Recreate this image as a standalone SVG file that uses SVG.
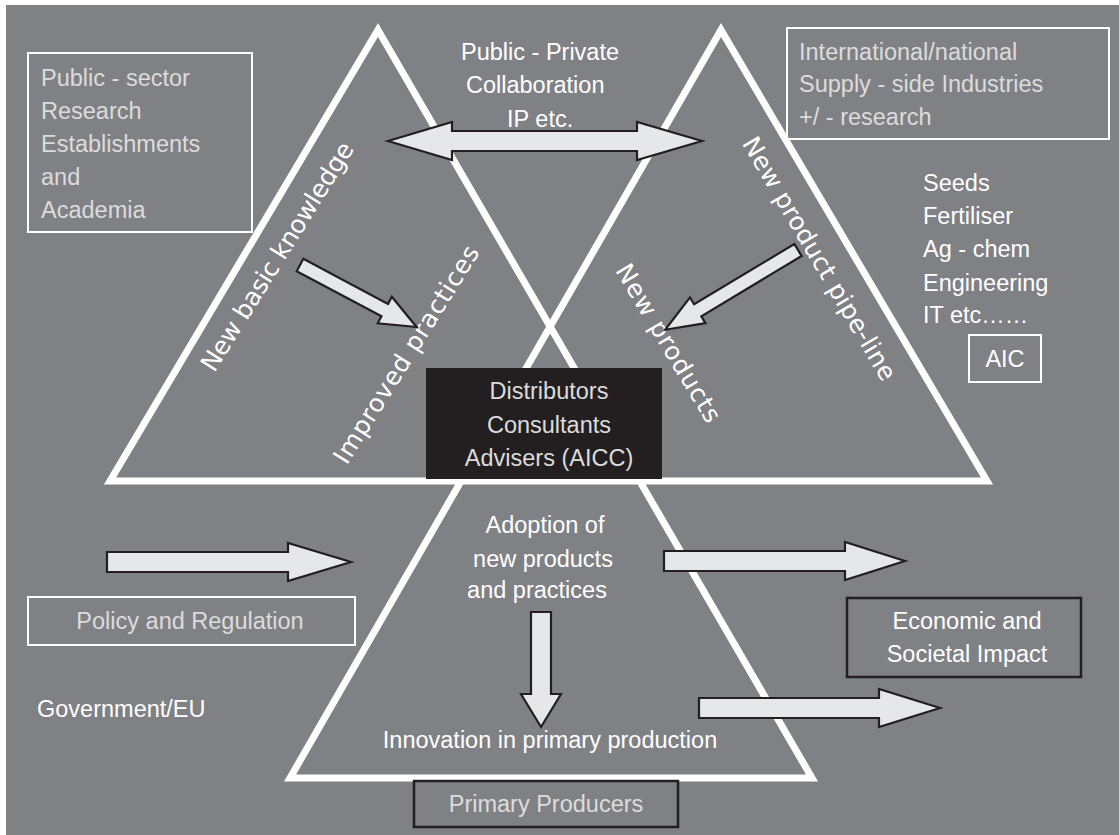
<svg xmlns="http://www.w3.org/2000/svg" width="1119" height="835" viewBox="0 0 1119 835">
<defs>
<style>
.t{font-family:"Liberation Sans",Arial,sans-serif;font-size:23.5px;fill:#ffffff}
.tg{font-family:"Liberation Sans",Arial,sans-serif;font-size:23.5px;fill:#dcdcdc}
.d{font-family:"DejaVu Sans",sans-serif;font-size:25px;fill:#ffffff}
.bw{fill:none;stroke:#ffffff;stroke-width:2}
.bd{fill:none;stroke:#231f20;stroke-width:2.5}
.ar{fill:#e6e7e8;stroke:#231f20;stroke-width:2.2;stroke-linejoin:miter}
</style>
</defs>
<rect x="0" y="0" width="1119" height="835" fill="#ffffff"/>
<rect x="6" y="5" width="1113" height="830" fill="#808185"/>

<g id="triangles">
<path d="M378,30 L812,778 L290,778 L721,30 L987,481 L110,481 Z" fill="none" stroke="#ffffff" stroke-width="7" stroke-linejoin="miter"/>
</g>

<g id="diagonal-labels">
<text class="d" text-anchor="middle" textLength="265" transform="translate(284.5,261) rotate(-58)">New basic knowledge</text>
<text class="d" text-anchor="middle" textLength="252" transform="translate(413.5,359) rotate(-58)">Improved practices</text>
<text class="d" text-anchor="middle" textLength="278" transform="translate(812,263) rotate(59.5)">New product pipe-line</text>
<text class="d" text-anchor="middle" textLength="180" transform="translate(661,347.5) rotate(59)">New products</text>
</g>

<g id="node-public-sector">
<rect class="bw" x="28" y="53" width="224" height="179"/>
<text class="tg" x="41" y="86">Public - sector</text>
<text class="tg" x="41" y="119">Research</text>
<text class="tg" x="41" y="152">Establishments</text>
<text class="tg" x="41" y="185">and</text>
<text class="tg" x="41" y="218">Academia</text>
</g>

<g id="node-collaboration">
<text class="t" x="461" y="60">Public - Private</text>
<text class="t" x="466" y="93">Collaboration</text>
<text class="t" x="507" y="127">IP etc.</text>
</g>

<g id="node-supply-side">
<rect class="bw" x="787" y="28" width="322" height="111"/>
<text class="tg" x="799" y="60">International/national</text>
<text class="tg" x="799" y="92">Supply - side Industries</text>
<text class="tg" x="799" y="125">+/ - research</text>
</g>

<g id="node-sectors">
<text class="t" x="923" y="191">Seeds</text>
<text class="t" x="923" y="224">Fertiliser</text>
<text class="t" x="923" y="257">Ag - chem</text>
<text class="t" x="923" y="291">Engineering</text>
<text class="t" x="923" y="323">IT  etc……</text>
</g>

<g id="node-aic">
<rect class="bw" x="969" y="335" width="72" height="47"/>
<text class="t" x="1005" y="367" text-anchor="middle">AIC</text>
</g>

<g id="node-aicc">
<rect x="426" y="368" width="236" height="111" fill="#231f20"/>
<text class="tg" x="549" y="399" text-anchor="middle">Distributors</text>
<text class="tg" x="549" y="433" text-anchor="middle">Consultants</text>
<text class="tg" x="549" y="466" text-anchor="middle">Advisers (AICC)</text>
</g>

<g id="node-adoption">
<text class="t" x="545" y="533" text-anchor="middle">Adoption of</text>
<text class="t" x="543" y="567" text-anchor="middle">new products</text>
<text class="t" x="537" y="598" text-anchor="middle">and practices</text>
</g>

<g id="node-innovation">
<text class="t" x="550" y="748" text-anchor="middle">Innovation in primary production</text>
</g>

<g id="node-policy">
<rect class="bw" x="28" y="597" width="327" height="48"/>
<text class="tg" x="190" y="629" text-anchor="middle">Policy and Regulation</text>
</g>

<g id="node-government">
<text class="t" x="37" y="717">Government/EU</text>
</g>

<g id="node-economic">
<rect class="bd" x="847" y="598" width="234" height="79"/>
<text class="t" x="967" y="629" text-anchor="middle">Economic and</text>
<text class="t" x="967" y="662" text-anchor="middle">Societal Impact</text>
</g>

<g id="node-primary-producers">
<rect class="bd" x="414" y="781" width="264" height="46"/>
<text class="tg" x="546" y="812" text-anchor="middle">Primary Producers</text>
</g>

<g id="connectors">
<path class="ar" d="M388,141 L452,122 L452,131 L637,131 L637,122 L702,141 L637,160 L637,151 L452,151 L452,160 Z"/>
<path class="ar" transform="translate(300,265) rotate(28)" d="M0,-7 L96,-7 L96,-15 L132,0 L96,15 L96,7 L0,7 Z"/>
<path class="ar" transform="translate(798,250) rotate(149)" d="M0,-7 L117,-7 L117,-15 L155,0 L117,15 L117,7 L0,7 Z"/>
<path class="ar" d="M107,552 L288,552 L288,543 L351,562 L288,581 L288,572 L107,572 Z"/>
<path class="ar" d="M664,551 L845,551 L845,542 L905,561 L845,580 L845,571 L664,571 Z"/>
<path class="ar" d="M699,698 L879,698 L879,689 L940,708 L879,727 L879,718 L699,718 Z"/>
<path class="ar" d="M531,612 L551,612 L551,694 L561,694 L541,727 L521,694 L531,694 Z"/>
</g>
</svg>
